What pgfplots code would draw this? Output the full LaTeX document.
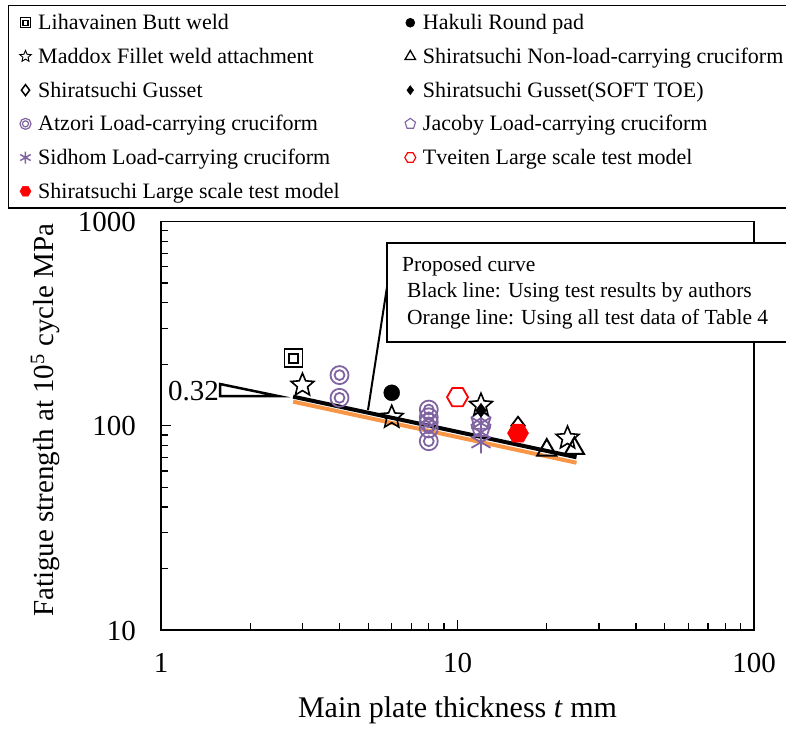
\documentclass[border=0pt]{standalone}
\usepackage{fontspec}
\setmainfont{Liberation Serif}
\usepackage{pgfplots}
\pgfplotsset{compat=1.18}
\usetikzlibrary{plotmarks}
\definecolor{apurple}{RGB}{128,100,162}
\definecolor{aorange}{RGB}{247,150,70}

\pgfdeclareplotmark{dsquare}{%
  \pgfpathrectangle{\pgfqpoint{-\pgfplotmarksize}{-\pgfplotmarksize}}{\pgfqpoint{2\pgfplotmarksize}{2\pgfplotmarksize}}%
  \pgfpathrectangle{\pgfqpoint{-.5\pgfplotmarksize}{-.5\pgfplotmarksize}}{\pgfqpoint{\pgfplotmarksize}{\pgfplotmarksize}}%
  \pgfusepathqstroke}
\pgfdeclareplotmark{dcircle}{%
  \pgfpathcircle{\pgfpointorigin}{\pgfplotmarksize}%
  \pgfpathcircle{\pgfpointorigin}{.55\pgfplotmarksize}%
  \pgfusepathqstroke}
\pgfdeclareplotmark{ostar}{%
  \pgfpathmoveto{\pgfpointpolar{90}{\pgfplotmarksize}}%
  \pgfpathlineto{\pgfpointpolar{126}{.45\pgfplotmarksize}}%
  \pgfpathlineto{\pgfpointpolar{162}{\pgfplotmarksize}}%
  \pgfpathlineto{\pgfpointpolar{198}{.45\pgfplotmarksize}}%
  \pgfpathlineto{\pgfpointpolar{234}{\pgfplotmarksize}}%
  \pgfpathlineto{\pgfpointpolar{270}{.45\pgfplotmarksize}}%
  \pgfpathlineto{\pgfpointpolar{306}{\pgfplotmarksize}}%
  \pgfpathlineto{\pgfpointpolar{342}{.45\pgfplotmarksize}}%
  \pgfpathlineto{\pgfpointpolar{18}{\pgfplotmarksize}}%
  \pgfpathlineto{\pgfpointpolar{54}{.45\pgfplotmarksize}}%
  \pgfpathclose\pgfusepathqstroke}
\pgfdeclareplotmark{ohex}{%
  \pgfpathmoveto{\pgfpointpolar{0}{\pgfplotmarksize}}%
  \pgfpathlineto{\pgfpointpolar{60}{\pgfplotmarksize}}%
  \pgfpathlineto{\pgfpointpolar{120}{\pgfplotmarksize}}%
  \pgfpathlineto{\pgfpointpolar{180}{\pgfplotmarksize}}%
  \pgfpathlineto{\pgfpointpolar{240}{\pgfplotmarksize}}%
  \pgfpathlineto{\pgfpointpolar{300}{\pgfplotmarksize}}%
  \pgfpathclose\pgfusepathqstroke}
\pgfdeclareplotmark{fhex}{%
  \pgfpathmoveto{\pgfpointpolar{0}{\pgfplotmarksize}}%
  \pgfpathlineto{\pgfpointpolar{60}{\pgfplotmarksize}}%
  \pgfpathlineto{\pgfpointpolar{120}{\pgfplotmarksize}}%
  \pgfpathlineto{\pgfpointpolar{180}{\pgfplotmarksize}}%
  \pgfpathlineto{\pgfpointpolar{240}{\pgfplotmarksize}}%
  \pgfpathlineto{\pgfpointpolar{300}{\pgfplotmarksize}}%
  \pgfpathclose\pgfusepathqfillstroke}

\begin{document}
\begin{tikzpicture}
\useasboundingbox (0,0) rectangle (786pt,729pt);
\begin{axis}[
  at={(161pt,99pt)}, anchor=south west,
  scale only axis, width=593pt, height=408.5pt,
  xmode=log, ymode=log, xmin=1, xmax=100, ymin=10, ymax=1000,
  xtick={1,10,100}, xticklabels={1,10,100},
  ytick={10,100,1000}, yticklabels={10,100,1000},
  tick align=inside, tick pos=left,
  major tick length=10pt, minor tick length=7pt,
  tick style={black, line width=1.2pt},
  axis line style={line width=1.6pt},
  ticklabel style={font=\fontsize{29}{34}\selectfont, inner sep=0pt},
  xticklabel style={anchor=base, yshift=-42pt},
  yticklabel style={anchor=base east, xshift=-25pt, yshift=-10pt},
  xlabel={Main plate thickness \textit{t} mm},
  ylabel={Fatigue strength at 10\textsuperscript{5} cycle MPa},
  xlabel style={font=\fontsize{30}{36}\selectfont, at={(axis description cs:0.5,-0.2154)}, anchor=base},
  ylabel style={font=\fontsize{29}{34}\selectfont, at={(axis description cs:-0.1956,0.514)}, anchor=center},
  clip=false,
  legend columns=2, legend cell align=left,
  legend image code/.code={\path (-6pt,0pt) (6pt,0pt); \draw[#1] plot coordinates {(0pt,0pt)};},
  legend style={
    at={(axis description cs:-0.25801,1.52999)}, anchor=north west,
    draw=black, line width=1.5pt, fill=white,
    font=\fontsize{22}{26}\selectfont,
    inner xsep=10pt, inner ysep=7pt,
    row sep=13.7pt,
    nodes={inner sep=0pt, text height=17pt, text depth=3pt},
    /tikz/every odd column/.append style={column sep=6pt},
    /tikz/every even column/.append style={column sep=64pt},
  },
]
% legend images
\addlegendimage{black, fill=black!45, mark=dsquare, mark size=5pt, line width=1.2pt}
\addlegendentry{Lihavainen Butt weld}
\addlegendimage{black, fill=black, mark=*, mark size=4.5pt, line width=0.5pt}
\addlegendentry{Hakuli Round pad}
\addlegendimage{black, mark=ostar, mark size=6pt, line width=0.9pt}
\addlegendentry{Maddox Fillet weld attachment}
\addlegendimage{black, mark=triangle, mark size=6pt, line width=1.3pt}
\addlegendentry{Shiratsuchi Non-load-carrying cruciform\hspace*{20pt}}
\addlegendimage{black, mark=diamond, mark size=5.5pt, line width=1.5pt}
\addlegendentry{Shiratsuchi Gusset}
\addlegendimage{black, fill=black, mark=diamond*, mark size=4.5pt, line width=0.5pt}
\addlegendentry{Shiratsuchi Gusset(SOFT TOE)}
\addlegendimage{apurple, mark=dcircle, mark size=5.5pt, line width=1.2pt}
\addlegendentry{Atzori Load-carrying cruciform}
\addlegendimage{apurple, mark=pentagon, mark size=5.5pt, line width=1.1pt}
\addlegendentry{Jacoby Load-carrying cruciform}
\addlegendimage{apurple, mark=asterisk, mark size=6pt, line width=1.5pt}
\addlegendentry{Sidhom Load-carrying cruciform}
\addlegendimage{red, mark=ohex, mark size=5.5pt, line width=1.2pt}
\addlegendentry{Tveiten Large scale test model}
\addlegendimage{red, fill=red, mark=fhex, mark size=5.5pt, line width=0.5pt}
\addlegendentry{Shiratsuchi Large scale test model}

% proposed curves
\addplot[forget plot, aorange, line width=4pt] coordinates {(2.79,131.2) (25.2,65.9)};
\addplot[forget plot, black, line width=4pt] coordinates {(2.79,138.8) (25.2,70.1)};

% data
\addplot[forget plot, only marks, black, mark=dsquare, mark size=9pt, line width=1.8pt]
  coordinates {(2.8,214)};
\addplot[forget plot, only marks, apurple, mark=dcircle, mark size=9pt, line width=1.8pt]
  coordinates {(4,177) (4,137) (8,120) (8,110) (8,104) (8,97) (8,84)};
\addplot[forget plot, only marks, black, fill=black, mark=*, mark size=8pt]
  coordinates {(6,145)};
\addplot[forget plot, only marks, red, mark=ohex, mark size=10.5pt, line width=1.8pt]
  coordinates {(10,138)};
\addplot[forget plot, only marks, black, mark=diamond, mark size=9pt, line width=1.8pt]
  coordinates {(16,100)};
\addplot[forget plot, only marks, red, fill=red, mark=fhex, mark size=10.5pt, line width=0.5pt]
  coordinates {(16,92)};
\addplot[forget plot, only marks, apurple, mark=pentagon, mark size=10pt, line width=1.8pt]
  coordinates {(12,106) (12,97.5)};
\addplot[forget plot, only marks, apurple, mark=asterisk, mark size=11pt, line width=1.8pt]
  coordinates {(12,103) (12,93) (12,83)};
\addplot[forget plot, only marks, black, fill=black, mark=diamond*, mark size=7pt, line width=0.5pt]
  coordinates {(12,119)};
\addplot[forget plot, only marks, black, mark=ostar, mark size=12pt, line width=1.6pt]
  coordinates {(3,158) (6,110) (12,126) (23.5,87)};
\addplot[forget plot, only marks, black, fill=white, mark=triangle, mark size=11pt, line width=2pt]
  coordinates {(20,76) (24.8,77.5)};
\end{axis}

% slope indicator
\draw[line width=2.5pt, line join=miter] (220pt,345pt) -- (278pt,333pt) -- (220pt,333pt) -- cycle;
\node[anchor=base east, inner sep=0pt, font=\fontsize{29}{34}\selectfont] at (219pt,329pt) {0.32};

% callout
\draw[line width=2pt] (368pt,319pt) -- (387pt,442pt);
\draw[line width=2pt, fill=white] (387pt,486pt) rectangle (800pt,387pt);
\begin{scope}[every node/.style={anchor=base west, inner sep=0pt, font=\fontsize{21.5}{26}\selectfont}]
\node at (402pt,457pt) {Proposed curve};
\node at (407pt,431pt) {Black line: Using test results by authors};
\node at (407pt,404pt) {Orange line: Using all test data of Table 4};
\end{scope}
\end{tikzpicture}
\end{document}
